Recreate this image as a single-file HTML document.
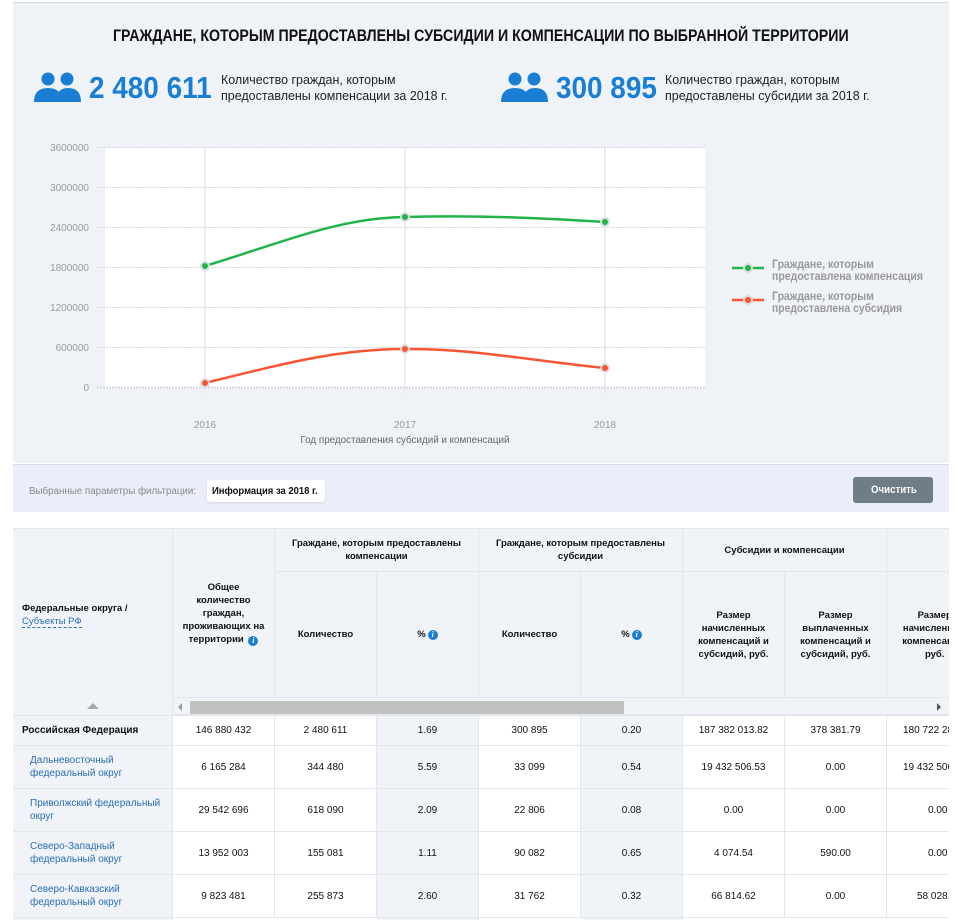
<!DOCTYPE html><html><head><meta charset="utf-8"><style>
*{margin:0;padding:0;box-sizing:border-box}
body{width:960px;height:920px;background:#fff;font-family:"Liberation Sans",sans-serif;position:relative;overflow:hidden}
.abs{position:absolute;white-space:nowrap}
.sx{transform-origin:0 0}
.top{left:13px;top:2px;width:936px;height:461px;background:#eff2f7;border-top:1px solid #d8dbe0}
.c{position:absolute;display:flex;align-items:center;justify-content:center;text-align:center;font-size:10px;color:#111;border-right:1px solid #e3e7ec;border-bottom:1px solid #e3e7ec;line-height:13px}
.h{background:#f0f3f7;font-weight:bold;font-size:9.5px;padding:0 11px}
.g{background:#f0f3f7}
.w{background:#fff}
.l{justify-content:flex-start;text-align:left;padding-left:17px;color:#2a6fb5}
.i{display:inline-block;width:10px;height:10px;border-radius:50%;background:#1a7fd4;color:#fff;font-size:8px;line-height:10px;text-align:center;font-style:italic;font-weight:bold;margin-left:2px;vertical-align:-1px;font-family:"Liberation Serif",serif}
</style></head><body>
<div class="abs top"></div>
<div class="abs sx" style="left:113px;top:26px;font-size:17px;font-weight:bold;color:#111;transform:scaleX(0.835)">ГРАЖДАНЕ, КОТОРЫМ ПРЕДОСТАВЛЕНЫ СУБСИДИИ И КОМПЕНСАЦИИ ПО ВЫБРАННОЙ ТЕРРИТОРИИ</div>
<svg class="abs" style="left:34px;top:72px" width="48" height="30" viewBox="0 0 48 30"><circle cx="14" cy="7" r="6.5" fill="#1a7fd4"/><circle cx="33" cy="7" r="6.5" fill="#1a7fd4"/><path d="M0 30 Q0 16 14 16 Q28 16 28 30Z" fill="#1a7fd4"/><path d="M22 30 Q22 16 34 16 Q47 16 47 30Z" fill="#1a7fd4"/></svg>
<div class="abs sx" style="left:89px;top:70px;font-size:31px;font-weight:bold;color:#1a7fd4;transform:scaleX(0.9)">2 480 611</div>
<div class="abs sx" style="left:221px;top:72px;font-size:13px;line-height:16px;color:#222;transform:scaleX(0.96)">Количество граждан, которым<br>предоставлены компенсации за 2018 г.</div>
<svg class="abs" style="left:501px;top:72px" width="48" height="30" viewBox="0 0 48 30"><circle cx="14" cy="7" r="6.5" fill="#1a7fd4"/><circle cx="33" cy="7" r="6.5" fill="#1a7fd4"/><path d="M0 30 Q0 16 14 16 Q28 16 28 30Z" fill="#1a7fd4"/><path d="M22 30 Q22 16 34 16 Q47 16 47 30Z" fill="#1a7fd4"/></svg>
<div class="abs sx" style="left:556px;top:70px;font-size:31px;font-weight:bold;color:#1a7fd4;transform:scaleX(0.9)">300 895</div>
<div class="abs sx" style="left:665px;top:72px;font-size:13px;line-height:16px;color:#222;transform:scaleX(0.96)">Количество граждан, которым<br>предоставлены субсидии за 2018 г.</div>
<svg class="abs" style="left:0;top:130px" width="960" height="330">
<rect x="105" y="18" width="600" height="240" fill="#fff"/>
<g stroke="#ebedf0" stroke-width="2"><line x1="205" y1="18" x2="205" y2="266"/><line x1="405" y1="18" x2="405" y2="266"/><line x1="605" y1="18" x2="605" y2="266"/></g>
<g stroke="#d5d7da" stroke-dasharray="2,1" stroke-width="1"><line x1="97" y1="17.5" x2="705" y2="17.5"/><line x1="97" y1="57.5" x2="705" y2="57.5"/><line x1="97" y1="97.5" x2="705" y2="97.5"/><line x1="97" y1="137.5" x2="705" y2="137.5"/><line x1="97" y1="177.5" x2="705" y2="177.5"/><line x1="97" y1="217.5" x2="705" y2="217.5"/><line x1="97" y1="257.5" x2="705" y2="257.5" stroke-width="2"/></g>
<g font-size="10" fill="#999" text-anchor="end" font-family="Liberation Sans"><text x="89" y="21">3600000</text><text x="89" y="61">3000000</text><text x="89" y="101">2400000</text><text x="89" y="141">1800000</text><text x="89" y="181">1200000</text><text x="89" y="221">600000</text><text x="89" y="261">0</text></g>
<g font-size="10" fill="#999" text-anchor="middle"><text x="205" y="298">2016</text><text x="405" y="298">2017</text><text x="605" y="298">2018</text></g>
<text x="405" y="313" font-size="10.5" fill="#666" text-anchor="middle" textLength="209" lengthAdjust="spacingAndGlyphs">Год предоставления субсидий и компенсаций</text>
<path d="M205 136 C290 110 340 88 405 87 C480 85 540 88 605 92" fill="none" stroke="#22b44a" stroke-width="2.5"/>
<path d="M205 253 C290 232 340 219 405 219 C470 218 540 232 605 238" fill="none" stroke="#fa5434" stroke-width="2.5"/>
<g stroke="#ddd" stroke-width="2"><circle cx="205" cy="136" r="4" fill="#22b44a"/><circle cx="405" cy="87" r="4" fill="#22b44a"/><circle cx="605" cy="92" r="4" fill="#22b44a"/><circle cx="205" cy="253" r="4" fill="#fa5434"/><circle cx="405" cy="219" r="4" fill="#fa5434"/><circle cx="605" cy="238" r="4" fill="#fa5434"/></g>
<line x1="732" y1="138" x2="764" y2="138" stroke="#22b44a" stroke-width="2.5"/><circle cx="748" cy="138" r="4" fill="#22b44a" stroke="#ddd" stroke-width="2"/>
<line x1="732" y1="170" x2="764" y2="170" stroke="#fa5434" stroke-width="2.5"/><circle cx="748" cy="170" r="4" fill="#fa5434" stroke="#ddd" stroke-width="2"/>
<g font-size="12" fill="#999" font-weight="bold"><text x="772" y="138" textLength="102" lengthAdjust="spacingAndGlyphs">Граждане, которым</text><text x="772" y="150" textLength="151" lengthAdjust="spacingAndGlyphs">предоставлена компенсация</text><text x="772" y="170" textLength="102" lengthAdjust="spacingAndGlyphs">Граждане, которым</text><text x="772" y="182" textLength="130" lengthAdjust="spacingAndGlyphs">предоставлена субсидия</text></g>
</svg>
<div class="abs" style="left:13px;top:464px;width:936px;height:48px;background:#e9eefa;border-top:1px solid #d8dbe0"></div>
<div class="abs sx" style="left:29px;top:485px;font-size:10.5px;color:#888;transform:scaleX(0.93)">Выбранные параметры фильтрации:</div>
<div class="abs" style="left:207px;top:480px;width:118px;height:22px;background:#fff;border-radius:3px;box-shadow:0 1px 2px rgba(0,0,0,.1)"></div>
<div class="abs sx" style="left:212px;top:485px;font-size:10.5px;font-weight:bold;color:#111;transform:scaleX(0.9)">Информация за 2018 г.</div>
<div class="abs" style="left:853px;top:477px;width:80px;height:26px;background:#6f7d88;border-radius:3px"></div>
<div class="abs sx" style="left:871px;top:484px;font-size:11px;font-weight:bold;color:#fff;transform:scaleX(0.88)">Очистить</div>
<div class="abs" style="left:13px;top:528px;width:936px;height:392px;overflow:hidden;border-top:1px solid #e3e7ec;white-space:normal">
<div class="c h" style="left:0;top:0;width:160px;height:187px;justify-content:flex-start;text-align:left;padding-left:9px"><div style="margin-top:-14px">Федеральные округа /<br><span style="color:#2a6fb5;font-weight:normal;border-bottom:1px dashed #2a6fb5">Субъекты РФ</span></div></div>
<div class="abs" style="left:74px;top:174px;width:0;height:0;border-left:6px solid transparent;border-right:6px solid transparent;border-bottom:6px solid #aaa"></div>
<div class="c h" style="left:160px;top:0;width:102px;height:169px;padding:0 9px"><div>Общее количество граждан, проживающих на территории&nbsp;<span class="i">i</span></div></div>
<div class="c h" style="left:262px;top:0;width:204px;height:43px">Граждане, которым предоставлены компенсации</div>
<div class="c h" style="left:466px;top:0;width:204px;height:43px">Граждане, которым предоставлены субсидии</div>
<div class="c h" style="left:670px;top:0;width:204px;height:43px">Субсидии и компенсации</div>
<div class="c h" style="left:874px;top:0;width:120px;height:43px"></div>
<div class="c h" style="left:262px;top:43px;width:102px;height:126px">Количество</div>
<div class="c h" style="left:364px;top:43px;width:102px;height:126px">% <span class="i">i</span></div>
<div class="c h" style="left:466px;top:43px;width:102px;height:126px">Количество</div>
<div class="c h" style="left:568px;top:43px;width:102px;height:126px">% <span class="i">i</span></div>
<div class="c h" style="left:670px;top:43px;width:102px;height:126px;padding:0 13px">Размер начисленных компенсаций и субсидий, руб.</div>
<div class="c h" style="left:772px;top:43px;width:102px;height:126px;padding:0 13px">Размер выплаченных компенсаций и субсидий, руб.</div>
<div class="c h" style="left:874px;top:43px;width:102px;height:126px;padding:0 13px">Размер начисленных компенсаций, руб. <span class="i">i</span></div>
<div class="abs" style="left:160px;top:169px;width:776px;height:18px;background:#f0f3f7;border-bottom:2px solid #e3e7ec"></div>
<div class="abs" style="left:177px;top:172px;width:434px;height:13px;background:#c1c1c1"></div>
<div class="abs" style="left:165px;top:174px;width:0;height:0;border-top:4px solid transparent;border-bottom:4px solid transparent;border-right:4px solid #999"></div>
<div class="abs" style="left:924px;top:174px;width:0;height:0;border-top:4px solid transparent;border-bottom:4px solid transparent;border-left:4px solid #555"></div>
<div class="c g" style="left:0;top:187px;width:160px;height:30px;justify-content:flex-start;padding-left:9px;font-weight:bold">Российская Федерация</div>
<div class="c w" style="left:160px;top:187px;width:102px;height:30px">146 880 432</div><div class="c w" style="left:262px;top:187px;width:102px;height:30px">2 480 611</div><div class="c g" style="left:364px;top:187px;width:102px;height:30px">1.69</div><div class="c w" style="left:466px;top:187px;width:102px;height:30px">300 895</div><div class="c g" style="left:568px;top:187px;width:102px;height:30px">0.20</div><div class="c w" style="left:670px;top:187px;width:102px;height:30px">187 382 013.82</div><div class="c w" style="left:772px;top:187px;width:102px;height:30px">378 381.79</div><div class="c w" style="left:874px;top:187px;width:102px;height:30px;justify-content:flex-start;padding-left:16px;white-space:nowrap">180 722 283</div>
<div class="c g l" style="left:0;top:217px;width:160px;height:43px">Дальневосточный федеральный округ</div>
<div class="c w" style="left:160px;top:217px;width:102px;height:43px">6 165 284</div><div class="c w" style="left:262px;top:217px;width:102px;height:43px">344 480</div><div class="c g" style="left:364px;top:217px;width:102px;height:43px">5.59</div><div class="c w" style="left:466px;top:217px;width:102px;height:43px">33 099</div><div class="c g" style="left:568px;top:217px;width:102px;height:43px">0.54</div><div class="c w" style="left:670px;top:217px;width:102px;height:43px">19 432 506.53</div><div class="c w" style="left:772px;top:217px;width:102px;height:43px">0.00</div><div class="c w" style="left:874px;top:217px;width:102px;height:43px;justify-content:flex-start;padding-left:16px;white-space:nowrap">19 432 506</div>
<div class="c g l" style="left:0;top:260px;width:160px;height:43px">Приволжский федеральный округ</div>
<div class="c w" style="left:160px;top:260px;width:102px;height:43px">29 542 696</div><div class="c w" style="left:262px;top:260px;width:102px;height:43px">618 090</div><div class="c g" style="left:364px;top:260px;width:102px;height:43px">2.09</div><div class="c w" style="left:466px;top:260px;width:102px;height:43px">22 806</div><div class="c g" style="left:568px;top:260px;width:102px;height:43px">0.08</div><div class="c w" style="left:670px;top:260px;width:102px;height:43px">0.00</div><div class="c w" style="left:772px;top:260px;width:102px;height:43px">0.00</div><div class="c w" style="left:874px;top:260px;width:102px;height:43px;justify-content:flex-start;padding-left:41px">0.00</div>
<div class="c g l" style="left:0;top:303px;width:160px;height:43px">Северо-Западный федеральный округ</div>
<div class="c w" style="left:160px;top:303px;width:102px;height:43px">13 952 003</div><div class="c w" style="left:262px;top:303px;width:102px;height:43px">155 081</div><div class="c g" style="left:364px;top:303px;width:102px;height:43px">1.11</div><div class="c w" style="left:466px;top:303px;width:102px;height:43px">90 082</div><div class="c g" style="left:568px;top:303px;width:102px;height:43px">0.65</div><div class="c w" style="left:670px;top:303px;width:102px;height:43px">4 074.54</div><div class="c w" style="left:772px;top:303px;width:102px;height:43px">590.00</div><div class="c w" style="left:874px;top:303px;width:102px;height:43px;justify-content:flex-start;padding-left:41px">0.00</div>
<div class="c g l" style="left:0;top:346px;width:160px;height:43px">Северо-Кавказский федеральный округ</div>
<div class="c w" style="left:160px;top:346px;width:102px;height:43px">9 823 481</div><div class="c w" style="left:262px;top:346px;width:102px;height:43px">255 873</div><div class="c g" style="left:364px;top:346px;width:102px;height:43px">2.60</div><div class="c w" style="left:466px;top:346px;width:102px;height:43px">31 762</div><div class="c g" style="left:568px;top:346px;width:102px;height:43px">0.32</div><div class="c w" style="left:670px;top:346px;width:102px;height:43px">66 814.62</div><div class="c w" style="left:772px;top:346px;width:102px;height:43px">0.00</div><div class="c w" style="left:874px;top:346px;width:102px;height:43px;justify-content:flex-start;padding-left:30px">58 028.</div>
<div class="c g" style="left:0;top:389px;width:160px;height:10px"></div><div class="c g" style="left:364px;top:389px;width:102px;height:10px"></div><div class="c g" style="left:568px;top:389px;width:102px;height:10px"></div>
</div>
</body></html>
